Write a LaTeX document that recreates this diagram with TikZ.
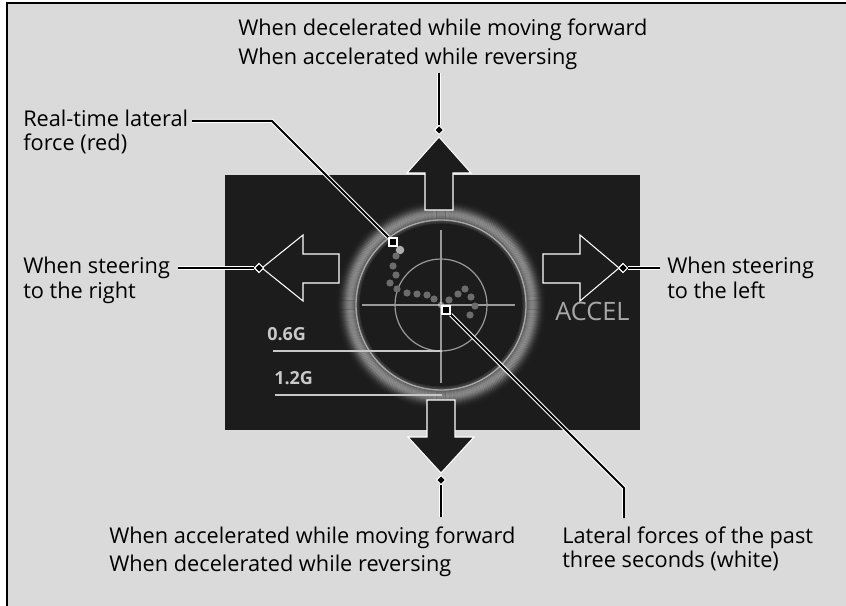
\documentclass[tikz,border=0pt]{standalone}
\usepackage{fontspec}
\setmainfont{Open Sans}
\usetikzlibrary{shapes.geometric}
\definecolor{bggray}{HTML}{DADADA}
\definecolor{panelblack}{HTML}{1C1C1C}
\definecolor{dotgray}{HTML}{6C6C6C}
\definecolor{scalegray}{HTML}{C8C8C8}
\definecolor{accelgray}{HTML}{A8A8A8}

\begin{document}
\begin{tikzpicture}[x=0.75pt,y=-0.75pt,
  lbl/.style={font=\fontsize{16.3}{18}\selectfont,inner sep=0pt,align=left,anchor=base west},
  leader/.style={draw=white,line width=0.75pt,double=black,double distance=1.5pt},
  tipmark/.style={diamond,fill=black,draw=white,line width=0.75pt,minimum size=7pt,inner sep=0pt},
  endmark/.style={rectangle,fill=black,draw=white,line width=1pt,minimum size=6pt,inner sep=0pt},
  bigarrow/.style={fill=panelblack,draw=white,line width=0.8pt},
  trail/.style={fill=dotgray}]
  \useasboundingbox (0,0) rectangle (846,606);
  % frame
  \fill[white] (0,0) rectangle (846,606);
  \fill[bggray] (7,3) rectangle (846,606);
  \draw[line width=1.2pt] (7,606) -- (7,3) -- (846,3);
  % display
  \fill[panelblack] (225,175) rectangle (640,430);
  \coordinate (ctr) at (441,305);
  \foreach \r in {82,...,108} {
    \pgfmathsetmacro\op{0.4*exp(-((\r-91)/7)^2)}
    \draw[white,opacity=\op,line width=0.9pt] (ctr) circle[radius=\r*0.75pt];
  }
  \draw[white,opacity=0.5,line width=1pt] (ctr) circle[radius=63.75pt];
  \draw[gray!80,line width=0.9pt] (362,305) -- (515,305);
  \draw[gray!80,line width=0.9pt] (441,230) -- (441,383);
  \draw[gray!80,line width=0.9pt] (ctr) circle[radius=34.5pt];
  \fill[white,opacity=0.35] (ctr) circle[radius=2.5pt];
  % scale
  \draw[scalegray,line width=1.2pt] (273,351) -- (442,351);
  \draw[scalegray,line width=1.2pt] (275,395) -- (442,395);
  \node[font=\fontsize{13.5}{14}\selectfont\bfseries,text=scalegray,inner sep=0pt,anchor=base west] (sixg) at (267,340) {0.6G};
  \node[font=\fontsize{13.5}{14}\selectfont\bfseries,text=scalegray,inner sep=0pt,anchor=base west] (twelveg) at (274,384) {1.2G};
  \node[font=\fontsize{19}{20}\selectfont,text=accelgray,inner sep=0pt,anchor=base west] (accel) at (555,320) {ACCEL};
  % trail of the last seconds
  \fill[gray!65] (400,250) circle[radius=3.2pt];
  \foreach \px/\py in {396/256,393/266,396/275,390/283,397/289,407/293,417/294,427/295,
      434/299,449/300,458/294,465/289,471/297,475/306,470/315}
    \fill[trail] (\px,\py) circle[radius=2.7pt];
  % arrows
  \draw[bigarrow] (439,137) -- (471,173) -- (453,173) -- (453,210) -- (425,210) -- (425,173) -- (407,173) -- cycle;
  \draw[bigarrow] (441,473) -- (474,437) -- (455,437) -- (455,400) -- (427,400) -- (427,437) -- (408,437) -- cycle;
  \draw[bigarrow] (262,268) -- (303,235) -- (303,254) -- (339,254) -- (339,283) -- (303,283) -- (303,301) -- cycle;
  \draw[bigarrow] (619,268) -- (580,235) -- (580,254) -- (543,254) -- (543,283) -- (580,283) -- (580,301) -- cycle;
  % labels (anchored at the baseline of the last line)
  \node[lbl,font=\fontsize{16.3}{21.75}\selectfont] (decel) at (238,65) {When decelerated while moving forward\\When accelerated while reversing};
  \node[lbl,font=\fontsize{16.3}{21}\selectfont] (accfwd) at (109,571) {When accelerated while moving forward\\When decelerated while reversing};
  \node[lbl] (realtime) at (23,151) {Real-time lateral\\force (red)};
  \node[lbl,font=\fontsize{16.3}{18.75}\selectfont] (steerright) at (23,298) {When steering\\to the right};
  \node[lbl,font=\fontsize{16.3}{18.75}\selectfont] (steerleft) at (667,298) {When steering\\to the left};
  \node[lbl] (past) at (562,567) {Lateral forces of the past\\three seconds (white)};
  % leaders
  \node[tipmark] (updia) at (439,130) {};
  \node[tipmark] (downdia) at (441,480) {};
  \node[tipmark] (leftdia) at (259,268) {};
  \node[tipmark] (rightdia) at (623,268) {};
  \node[endmark] (redsq) at (393,242) {};
  \node[endmark] (whitesq) at (446,310) {};
  \coordinate (upend) at (439,73);
  \coordinate (downend) at (441,517);
  \coordinate (leftend) at (178,268);
  \coordinate (rightend) at (660,268);
  \coordinate (redend) at (192,121);
  \coordinate (redknee) at (272,121);
  \coordinate (whiteknee) at (624,488);
  \coordinate (whiteend) at (624,518);
  \draw[leader] (upend) -- (updia);
  \draw[leader] (downdia) -- (downend);
  \draw[leader] (leftend) -- (leftdia);
  \draw[leader] (rightdia) -- (rightend);
  \draw[leader] (redend) -- (redknee) -- (redsq);
  \draw[leader] (whitesq) -- (whiteknee) -- (whiteend);
  \node[tipmark] at (updia) {};
  \node[tipmark] at (downdia) {};
  \node[tipmark] at (leftdia) {};
  \node[tipmark] at (rightdia) {};
  \node[endmark] at (redsq) {};
  \node[endmark] at (whitesq) {};
\end{tikzpicture}
\end{document}
